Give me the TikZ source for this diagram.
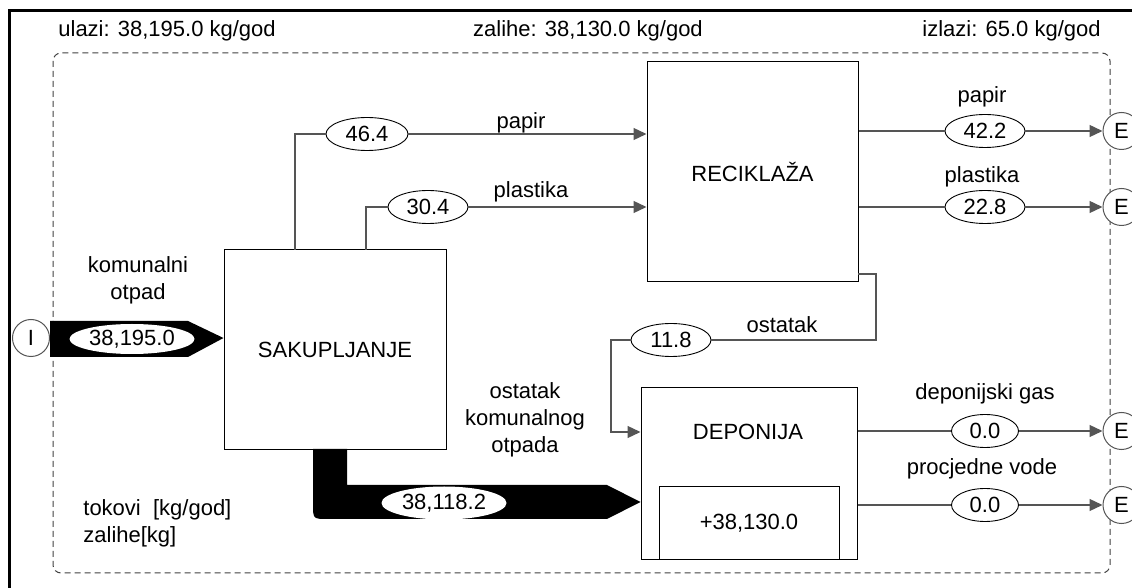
\documentclass[tikz,border=0pt]{standalone}
\usepackage{fontspec}
\setmainfont{Liberation Sans}
\usetikzlibrary{shapes.geometric,arrows.meta}
\definecolor{conn}{RGB}{85,85,85}
\tikzset{
  txt/.style={font=\fontsize{11}{13.5}\selectfont, inner sep=0pt},
  procbox/.style={draw=black, line width=0.5pt, inner sep=0pt, font=\fontsize{11}{13.5}\selectfont},
  val/.style={ellipse, draw=black, line width=0.45pt, fill=white, inner sep=0pt, minimum width=40pt, minimum height=16.5pt, font=\fontsize{11}{13.5}\selectfont},
  endc/.style={circle, draw=conn, line width=0.5pt, fill=white, inner sep=0pt, minimum size=18.5pt, font=\fontsize{11}{13.5}\selectfont},
  flow/.style={draw=conn, line width=0.65pt},
  flowa/.style={flow, -{Triangle[length=6.5pt,width=6pt]}},
}
\begin{document}
\begin{tikzpicture}[x=0.5pt,y=-0.5pt]
\useasboundingbox (0,0) rectangle (1132,588);
% outer frame (top and left only)
\draw[line width=1.5pt] (9,588) -- (9,11) -- (1132,11);
% system boundary
\draw[dashed, dash pattern=on 3pt off 2pt, line width=0.5pt, draw=black!75, rounded corners=4pt] (53,53) rectangle (1110,573);
% top labels
\node[txt, anchor=west] (lin) at (58,31) {ulazi: 38,195.0 kg/god};
\node[txt] (lst) at (588,31) {zalihe: 38,130.0 kg/god};
\node[txt, anchor=east] (lout) at (1101,31) {izlazi: 65.0 kg/god};
% processes
\node[procbox, minimum width=105.5pt, minimum height=110pt] (rec) at (752.5,172) {RECIKLA\v{Z}A};
\node[procbox, minimum width=111pt, minimum height=100pt] (sak) at (335,350) {SAKUPLJANJE};
\node[procbox, minimum width=108pt, minimum height=86pt] (dep) at (749,474) {};
\node[txt] (deplab) at (748,432) {DEPONIJA};
\node[procbox, minimum width=90pt, minimum height=36.5pt] (stock) at (749,523.5) {+38,130.0};
% input / export circles
\node[endc] (I) at (31,338) {I};
\node[endc] (E1) at (1121.5,131) {E};
\node[endc] (E2) at (1121.5,207) {E};
\node[endc] (E3) at (1121.5,431) {E};
\node[endc] (E4) at (1121.5,505) {E};
% big input flow
\coordinate (inA) at (50,321);
\coordinate (inB) at (188,321);
\coordinate (inC) at (sak.west |- I);
\coordinate (inD) at (188,357);
\coordinate (inE) at (50,357);
\fill[black] (inA) -- (inB) -- (inC) -- (inD) -- (inE) -- cycle;
\node[val, minimum width=62.5pt, minimum height=15pt, draw=none] (vin) at (132,339) {38,195.0};
\node[txt, align=center] (lkom) at (138,280) {komunalni\\otpad};
% big flow to deponija
\coordinate (dA) at (347,449);
\coordinate (dB) at (313,449);
\coordinate (dTip) at (dep.west |- 0,502);
\fill[black] (dA) -- (347,485) -- (607,485) -- (dTip) -- (607,519) -- (328,519) .. controls (313,519) .. (313,504) -- (dB) -- cycle;
\node[val, minimum width=62.5pt, draw=none] (vdep) at (444,503) {38,118.2};
\node[txt, align=center] (lost) at (525,420) {ostatak\\komunalnog\\otpada};
% papir to recycling
\coordinate (sp) at (295,250);
\node[val, minimum width=41pt] (v46) at (367,134) {46.4};
\draw[flow] (sp) |- (v46.west);
\draw[flowa] (v46.east) -- (rec.west |- v46);
\node[txt] (lpap) at (521,123) {papir};
% plastika to recycling
\coordinate (spl) at (366,250);
\node[val] (v30) at (428,207) {30.4};
\draw[flow] (spl) |- (v30.west);
\draw[flowa] (v30.east) -- (rec.west |- v30);
\node[txt] (lpla) at (531,192) {plastika};
% recycling outputs
\node[val] (v42) at (985,131) {42.2};
\draw[flow] (rec.east |- v42) -- (v42.west);
\draw[flowa] (v42.east) -- (E1.west);
\node[txt] (lpap2) at (982,97) {papir};
\node[val] (v22) at (985,207) {22.8};
\draw[flow] (rec.east |- v22) -- (v22.west);
\draw[flowa] (v22.east) -- (E2.west);
\node[txt] (lpla2) at (982,177) {plastika};
% ostatak
\coordinate (o1) at (858,274);
\coordinate (o2) at (876,274);
\coordinate (o3) at (611,432);
\node[val] (v11) at (671,340) {11.8};
\draw[flow] (o1) -- (o2) |- (v11.east);
\draw[flowa] (v11.west) -| (o3) -- (dep.west |- o3);
\node[txt] (lostat) at (782,325) {ostatak};
% deponija outputs
\node[val, minimum width=33.5pt] (vg) at (985,431) {0.0};
\draw[flow] (dep.east |- vg) -- (vg.west);
\draw[flowa] (vg.east) -- (E3.west);
\node[txt] (lgas) at (985,394) {deponijski gas};
\node[val, minimum width=33.5pt] (vv) at (985,505) {0.0};
\draw[flow] (dep.east |- vv) -- (vv.west);
\draw[flowa] (vv.east) -- (E4.west);
\node[txt] (lvod) at (982,469) {procjedne vode};
% legend
\node[txt, align=left, anchor=west] (leg) at (83,523) {tokovi\ \ [kg/god]\\zalihe[kg]};
\end{tikzpicture}
\end{document}
